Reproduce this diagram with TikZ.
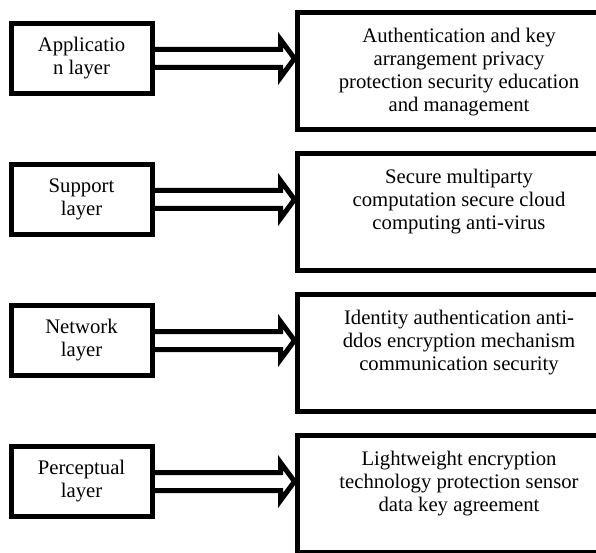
\documentclass[tikz,border=0pt]{standalone}
\usepackage{fontspec}
\setmainfont{Liberation Serif}

\begin{document}
\begin{tikzpicture}[x=1pt, y=-1pt,
    every node/.style={font=\fontsize{20.7pt}{23pt}\selectfont},
    layer/.style={draw, line width=5pt, minimum width=141pt, minimum height=70pt, inner sep=0pt, align=center},
    measure/.style={draw, line width=5pt, minimum width=324pt, minimum height=117pt},
    detail/.style={anchor=north, inner sep=0pt, yshift=-18pt, align=center},
    hollow/.style={line width=5pt, miter limit=20, to path={
        ([yshift=9pt]\tikztostart) -- ([xshift=-14pt,yshift=9pt]\tikztotarget)
        -- ([xshift=-14pt,yshift=19pt]\tikztotarget) -- (\tikztotarget)
        -- ([xshift=-14pt,yshift=-19pt]\tikztotarget) -- ([xshift=-14pt,yshift=-9pt]\tikztotarget)
        -- ([yshift=-9pt]\tikztostart)}}]

        \useasboundingbox (0,0) rectangle (596,553);
        \clip (0,0) rectangle (596,553);

        % --- ROW 1 ---
        % (1) Application layer
        \begin{scope}[shift={(0,0)}]
            \node[layer] (app) at (81.5,58.5) {Applicatio\\n layer};
            \node[measure, label={[detail]north:{Authentication and key\\arrangement privacy\\protection security education\\and management}}] (appsec) at (459,71) {};
            \coordinate (apptip) at (appsec.west |- app.east);
            \draw[hollow] (app.east) to (apptip);
        \end{scope}

        % --- ROW 2 ---
        % (2) Support layer
        \begin{scope}[shift={(0,141)}]
            \node[layer] (sup) at (81.5,58.5) {Support\\layer};
            \node[measure, label={[detail]north:{Secure multiparty\\computation secure cloud\\computing anti-virus}}] (supsec) at (459,71) {};
            \coordinate (suptip) at (supsec.west |- sup.east);
            \draw[hollow] (sup.east) to (suptip);
        \end{scope}

        % --- ROW 3 ---
        % (3) Network layer
        \begin{scope}[shift={(0,282)}]
            \node[layer] (net) at (81.5,58.5) {Network\\layer};
            \node[measure, label={[detail]north:{Identity authentication anti-\\ddos encryption mechanism\\communication security}}] (netsec) at (459,71) {};
            \coordinate (nettip) at (netsec.west |- net.east);
            \draw[hollow] (net.east) to (nettip);
        \end{scope}

        % --- ROW 4 ---
        % (4) Perceptual layer
        \begin{scope}[shift={(0,423)}]
            \node[layer] (per) at (81.5,58.5) {Perceptual\\layer};
            \node[measure, label={[detail]north:{Lightweight encryption\\technology protection sensor\\data key agreement}}] (persec) at (459,71) {};
            \coordinate (pertip) at (persec.west |- per.east);
            \draw[hollow] (per.east) to (pertip);
        \end{scope}

    \end{tikzpicture}
\end{document}
